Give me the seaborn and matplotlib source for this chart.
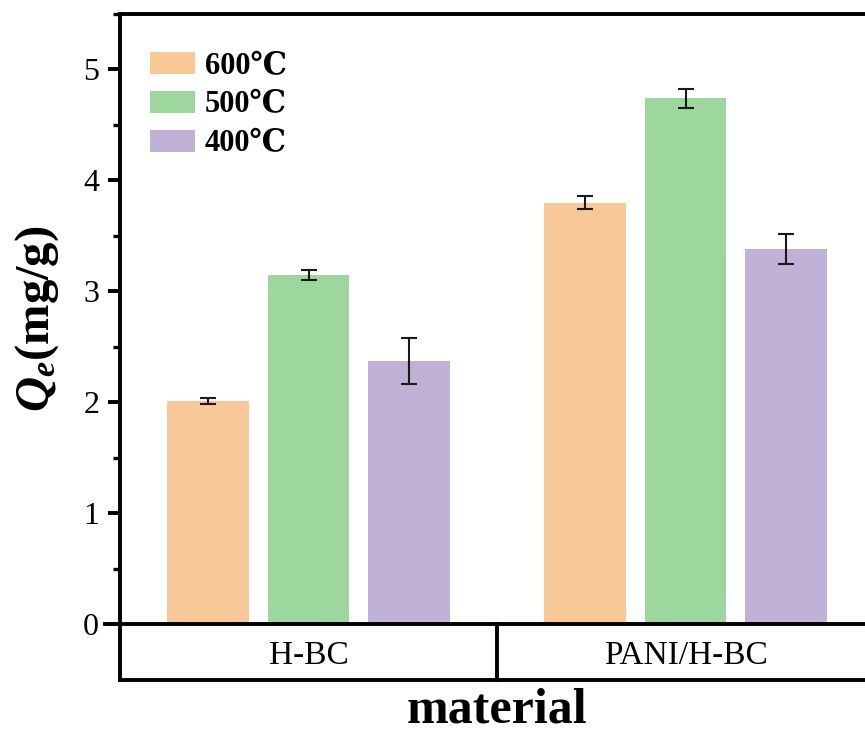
import matplotlib
matplotlib.use("Agg")
import matplotlib.pyplot as plt
from matplotlib.ticker import MultipleLocator
import seaborn as sns
import pandas as pd

# adsorption capacity by material and pyrolysis temperature
materials = ["H-BC", "PANI/H-BC"]
temperatures = ["600℃", "500℃", "400℃"]
qe_600 = [2.01, 3.80]
qe_500 = [3.15, 4.74]
qe_400 = [2.37, 3.38]
err_600 = [0.03, 0.057]
err_500 = [0.045, 0.085]
err_400 = [0.21, 0.137]
colors = ["#F9C897", "#9ED79D", "#C0B1D6"]

values = [qe_600, qe_500, qe_400]
errors = [err_600, err_500, err_400]
rows = []
for t, vals in zip(temperatures, values):
    for m, v in zip(materials, vals):
        rows.append({"material": m, "temperature": t, "Qe": v})
df = pd.DataFrame(rows)

sns.set_theme(style="white")
plt.rcParams["font.family"] = ["Liberation Serif", "DejaVu Serif"]
plt.rcParams["text.color"] = "black"
plt.rcParams["axes.labelcolor"] = "black"
plt.rcParams["xtick.color"] = "black"
plt.rcParams["ytick.color"] = "black"
plt.rcParams["mathtext.fontset"] = "custom"
plt.rcParams["mathtext.it"] = "Liberation Serif:italic:bold"
plt.rcParams["mathtext.rm"] = "Liberation Serif:bold"

fig = plt.figure(figsize=(8.65, 7.33), dpi=100)
ax = fig.add_axes([120 / 865, 1 - 624 / 733, 754 / 865, 610 / 733])

sns.barplot(data=df, x="material", y="Qe", hue="temperature",
            order=materials, hue_order=temperatures, palette=colors,
            width=0.8, gap=0.185, errorbar=None, saturation=1,
            linewidth=0, ax=ax)

# error bars at the centres of the drawn bars
for cont, errs in zip(ax.containers, errors):
    xs = [b.get_x() + b.get_width() / 2 for b in cont]
    ys = [b.get_height() for b in cont]
    ax.errorbar(xs, ys, yerr=errs, fmt="none", ecolor="#1a1a1a",
                elinewidth=1.5, capsize=5.8, capthick=1.5, zorder=5)

ax.set_ylim(0, 5.5)
ax.set_xlim(-0.5, 1.5)
ax.yaxis.set_major_locator(MultipleLocator(1))
ax.yaxis.set_minor_locator(MultipleLocator(0.5))
ax.tick_params(axis="y", which="major", direction="out", length=9, width=2.8,
               labelsize=23, pad=6, left=True, color="black", labelcolor="black")
ax.tick_params(axis="y", which="minor", direction="out", length=5, width=2.4,
               left=True, color="black")
ax.tick_params(axis="x", length=0, labelsize=24, pad=12, labelcolor="black")

for side in ["left", "top"]:
    ax.spines[side].set_linewidth(2.8)
    ax.spines[side].set_color("black")
ax.spines["right"].set_visible(False)
ax.spines["bottom"].set_visible(False)

# category table under the plot
tb = -0.0918
kw = dict(transform=ax.transAxes, clip_on=False, color="black", lw=2.8,
          solid_capstyle="projecting")
ax.plot([-0.02, 1.02], [0, 0], **kw)
ax.plot([0, 0], [0, tb], **kw)
ax.plot([0, 1.02], [tb, tb], **kw)
ax.plot([0.5, 0.5], [0, tb], **kw)

ax.set_ylabel(r"$Q_e$(mg/g)", fontsize=35, fontweight="bold", labelpad=16,
              color="black")
ax.set_xlabel("material", fontsize=36, fontweight="bold", labelpad=12,
              color="black")

leg = ax.legend(loc="upper left", bbox_to_anchor=(0.0398, 0.938),
                frameon=False, prop={"weight": "bold", "size": 22},
                handlelength=1.47, handleheight=0.72, labelspacing=0.32,
                handletextpad=0.33, borderpad=0, borderaxespad=0, title=None)
for txt in leg.get_texts():
    txt.set_color("black")

fig.savefig("out.png", dpi=100)
